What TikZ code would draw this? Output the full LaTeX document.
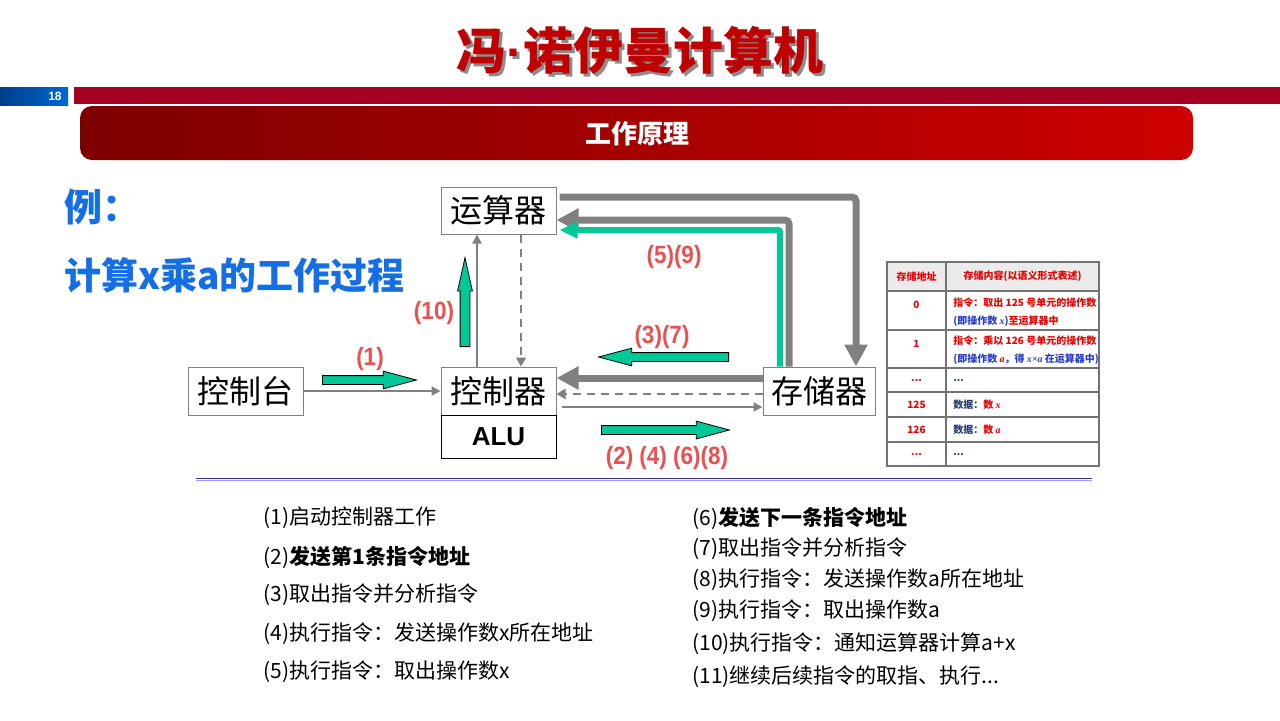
\documentclass[tikz,border=0pt]{standalone}
\usepackage{fontspec}
\setmainfont{Noto Sans CJK SC}
\newfontfamily\labelfont[FakeStretch=0.9]{Liberation Sans}
\newfontfamily\arialfont{Liberation Sans}
\newfontfamily\varfont{Liberation Serif}
\usetikzlibrary{arrows.meta, positioning, shapes.arrows, calc}

\definecolor{titlered}{RGB}{192,0,0}
\definecolor{barred}{RGB}{165,0,33}
\definecolor{boxdark}{RGB}{125,0,0}
\definecolor{boxbright}{RGB}{206,0,0}
\definecolor{pageblue}{RGB}{20,110,230}
\definecolor{numblueA}{RGB}{0,62,140}
\definecolor{numblueB}{RGB}{0,104,210}
\definecolor{flowgreen}{RGB}{0,200,150}
\definecolor{flowgray}{RGB}{128,128,128}
\definecolor{steplabel}{RGB}{235,80,80}
\definecolor{tabred}{RGB}{230,0,0}
\definecolor{tabblue}{RGB}{40,60,200}
\definecolor{tabnavy}{RGB}{40,60,110}
\definecolor{rulelight}{RGB}{153,153,255}
\definecolor{ruledark}{RGB}{51,51,153}

\begin{document}
\begin{tikzpicture}[x=0.5pt, y=-0.5pt,
  unit/.style={rectangle, draw=flowgray, line width=0.5pt, fill=white,
               minimum width=57.5pt, minimum height=24pt, inner sep=0pt,
               font=\fontsize{16}{18}\selectfont},
  greenarrow/.style={single arrow, draw=black, line width=0.4pt, fill=flowgreen,
                     inner xsep=0pt, inner ysep=2pt, single arrow head extend=2.25pt,
                     single arrow tip angle=30, anchor=tail},
  steplabel/.style={font=\labelfont\bfseries\fontsize{12.5}{14}\selectfont,
                    text=steplabel, inner sep=0pt},
  thinflow/.style={draw=flowgray, line width=1pt, -{Triangle[length=4.5pt,width=4.5pt]}},
  dashflow/.style={draw=flowgray, line width=1.4pt, dash pattern=on 4pt off 3pt,
                   -{Triangle[length=4.5pt,width=5pt]}},
  bigflow/.style={draw=flowgray, line width=3.5pt, rounded corners=2pt,
                  -{Triangle[length=11pt,width=11pt]}},
  greenflow/.style={draw=flowgreen, line width=3pt, rounded corners=1pt,
                    -{Triangle[length=9pt,width=8pt]}},
  tabtext/.style={font=\fontsize{5}{6}\selectfont\bfseries, inner sep=0pt},
  listtext/.style={font=\fontsize{10.5}{12}\selectfont, anchor=west, inner sep=0pt}
]
\useasboundingbox (0,0) rectangle (1280,720);

% slide header
\node[text=black!45, font=\bfseries\fontsize{25}{28}\selectfont] (titleShadow) at (643,53) {冯{\arialfont\bfseries ·}诺伊曼计算机};
\node[text=titlered, font=\bfseries\fontsize{25}{28}\selectfont] (title) at (640,50) {冯{\arialfont\bfseries ·}诺伊曼计算机};
\shade[left color=numblueA, right color=numblueB] (0,87) rectangle (68,105);
\node[text=white, anchor=east, inner sep=0pt, font=\arialfont\bfseries\fontsize{6}{7}\selectfont] (pageNo) at (62,96) {18};
\fill[barred] (74,87) rectangle (1280,104);
\shade[rounded corners=6pt, left color=boxdark, right color=boxbright] (80,106) rectangle (1193,160);
\node[text=white, font=\bfseries\fontsize{13}{15}\selectfont] (section) at (637,134) {工作原理};

\node[text=pageblue, anchor=west, inner sep=0pt, font=\bfseries\fontsize{19}{21}\selectfont] (example) at (64,207) {例：};
\node[text=pageblue, anchor=west, inner sep=0pt, font=\bfseries\fontsize{18.5}{21}\selectfont] (task) at (64,275) {计算x乘a的工作过程};

% units
\node[unit, minimum height=23.5pt] (calc) at (498.5,210.5) {运算器};
\node[unit] (console) at (245.5,391) {控制台};
\node[unit] (ctrl) at (498.5,391) {控制器};
\node[unit, draw=black, minimum height=21.5pt, font=\arialfont\bfseries\fontsize{13}{15}\selectfont] (alu) at (498.5,436.5) {ALU};
\node[unit, minimum width=56pt] (mem) at (819,391) {存储器};

% data and control paths
\draw[thinflow] (console) -- (ctrl);
\draw[thinflow] ([xshift=-10.75pt]ctrl.north) -- ([xshift=-10.75pt]calc.south);
\draw[dashflow, line width=1pt] ([xshift=11.25pt]calc.south) -- ([xshift=11.25pt]ctrl.north);
\draw[bigflow] ([xshift=1.5pt, yshift=6.75pt]calc.east) -| ([xshift=18.5pt]mem.north);
\draw[bigflow] ([xshift=-15pt]mem.north) |- ([yshift=-4.75pt]calc.east);
\draw[greenflow] ([xshift=-19.5pt]mem.north) |- ([xshift=1.5pt, yshift=-9.75pt]calc.east);
\draw[bigflow] ([yshift=6.5pt]mem.west) -- ([yshift=6.5pt]ctrl.east);
\draw[dashflow] ([yshift=-1.5pt]mem.west) -- ([yshift=-1.5pt]ctrl.east);
\draw[thinflow] ([xshift=2.5pt, yshift=-8pt]ctrl.east) -- ([yshift=-8pt]mem.west);

% step arrows
\node[greenarrow, minimum height=47pt] (stepA) at (322,380) {};
\node[greenarrow, minimum height=65pt, rotate=180] (stepB) at (729,357) {};
\node[greenarrow, minimum height=64pt] (stepC) at (601,430) {};
\node[greenarrow, minimum height=44.5pt, inner ysep=2.25pt, single arrow head extend=1.25pt,
      single arrow tip angle=25, rotate=90] (stepD) at (465,347) {};

\node[steplabel] (lblA) at (370,359) {(1)};
\node[steplabel] (lblD) at (434,313) {(10)};
\node[steplabel] (lblB) at (662,337) {(3)(7)};
\node[steplabel] (lblE) at (674,257) {(5)(9)};
\node[steplabel] (lblC) at (667,458) {(2) (4) (6)(8)};

% memory table
\fill[black!8] (887,262) rectangle (1099,291);
\draw[black!55, line width=0.6pt] (887,262) rectangle (1099,466);
\draw[black!55, line width=0.6pt] (946,262) -- (946,466);
\foreach \y in {291,330,368,392,417,442}{
  \draw[black!55, line width=0.6pt] (887,\y) -- (1099,\y);
}
\node[tabtext, text=tabred] (hAddr) at (916.5,276.5) {存储地址};
\node[tabtext, text=tabred] (hCont) at (1022.5,276.5) {存储内容(以语义形式表述)};
\node[tabtext, text=tabred] (a0) at (916.5,305) {0};
\node[tabtext, text=tabred, anchor=west] (c0a) at (953,303) {指令：取出 125 号单元的操作数};
\node[tabtext, anchor=west] (c0b) at (953,321) {\textcolor{tabblue}{(即操作数 {\varfont\itshape x})}\textcolor{tabred}{至运算器中}};
\node[tabtext, text=tabred] (a1) at (916.5,344) {1};
\node[tabtext, text=tabred, anchor=west] (c1a) at (953,341) {指令：乘以 126 号单元的操作数};
\node[tabtext, text=tabblue, anchor=west] (c1b) at (953,359) {(即操作数 \textcolor{tabred}{\varfont\itshape a}，得 {\varfont\itshape x×a} 在运算器中)};
\node[tabtext, text=tabred] (a2) at (916.5,381) {...};
\node[tabtext, text=tabnavy, anchor=west] (c2) at (953,381) {...};
\node[tabtext, text=tabred] (a3) at (916.5,405) {125};
\node[tabtext, anchor=west] (c3) at (953,405) {\textcolor{tabnavy}{数据：}\textcolor{tabred}{数 {\varfont\itshape x}}};
\node[tabtext, text=tabred] (a4) at (916.5,430) {126};
\node[tabtext, anchor=west] (c4) at (953,430) {\textcolor{tabnavy}{数据：}\textcolor{tabred}{数 {\varfont\itshape a}}};
\node[tabtext, text=tabred] (a5) at (916.5,455) {...};
\node[tabtext, text=tabnavy, anchor=west] (c5) at (953,455) {...};

% separator rule
\draw[ruledark, line width=0.9pt] (196,478.5) -- (1092,478.5);
\draw[rulelight, line width=0.9pt] (196,480.5) -- (1092,480.5);

% step list
\foreach \n/\y/\txt in {1/518/{(1)启动控制器工作},
                        2/557/{(2)\textbf{发送第1条指令地址}},
                        3/595/{(3)取出指令并分析指令},
                        4/634/{(4)执行指令：发送操作数x所在地址},
                        5/672/{(5)执行指令：取出操作数x}}{
  \node[listtext] (step\n) at (263,\y) {\txt};
}
\foreach \n/\y/\txt in {6/518/{(6)\textbf{发送下一条指令地址}},
                        7/549/{(7)取出指令并分析指令},
                        8/580/{(8)执行指令：发送操作数a所在地址},
                        9/611/{(9)执行指令：取出操作数a},
                        10/644/{(10)执行指令：通知运算器计算a+x},
                        11/677/{(11)继续后续指令的取指、执行...}}{
  \node[listtext] (step\n) at (692,\y) {\txt};
}

\end{tikzpicture}
\end{document}
